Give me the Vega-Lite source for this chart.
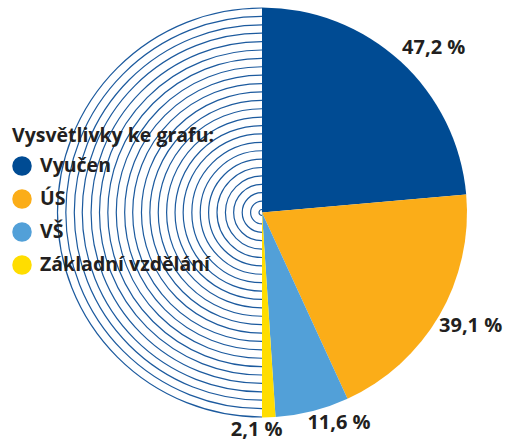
{
  "$schema": "https://vega.github.io/schema/vega-lite/v6.json",
  "autosize": "none",
  "width": 410,
  "height": 410,
  "padding": {"left": 57, "top": 7.5, "right": 39, "bottom": 23.5},
  "background": "white",
  "config": {
    "view": {"stroke": null},
    "font": "Open Sans",
    "legend": {
      "orient": "none",
      "legendX": -45,
      "legendY": 119,
      "titleFont": "Open Sans",
      "titleFontSize": 19.5,
      "titleFontWeight": "bold",
      "titleColor": "#231f20",
      "titleLimit": 400,
      "titlePadding": 10,
      "labelFont": "Open Sans",
      "labelFontSize": 19.5,
      "labelFontWeight": "bold",
      "labelColor": "#231f20",
      "labelLimit": 400,
      "labelOffset": 8,
      "symbolType": "circle",
      "symbolSize": 380,
      "symbolStrokeWidth": 0,
      "symbolOpacity": 1,
      "rowPadding": 13
    }
  },
  "datasets": {
    "podil": [
      {"kategorie": "Vyučen", "hodnota": 47.2, "popisek": "47,2 %"},
      {"kategorie": "ÚS", "hodnota": 39.1, "popisek": "39,1 %"},
      {"kategorie": "VŠ", "hodnota": 11.6, "popisek": "11,6 %"},
      {"kategorie": "Základní vzdělání", "hodnota": 2.1, "popisek": "2,1 %"}
    ],
    "kruhy": [
      {"kruh": 0}, {"kruh": 1}, {"kruh": 2}, {"kruh": 3}, {"kruh": 4},
      {"kruh": 5}, {"kruh": 6}, {"kruh": 7}, {"kruh": 8}, {"kruh": 9},
      {"kruh": 10}, {"kruh": 11}, {"kruh": 12}, {"kruh": 13}, {"kruh": 14},
      {"kruh": 15}, {"kruh": 16}, {"kruh": 17}, {"kruh": 18}, {"kruh": 19},
      {"kruh": 20}, {"kruh": 21}, {"kruh": 22}, {"kruh": 23}, {"kruh": 24}
    ]
  },
  "layer": [
    {
      "data": {"name": "kruhy"},
      "mark": {"type": "arc", "theta": 3.14159265, "theta2": 6.28318531, "filled": false, "stroke": "#1c5a9e", "strokeWidth": 1.2},
      "encoding": {
        "radius": {"field": "kruh", "type": "quantitative", "scale": {"domain": [0, 24], "range": [3, 204.5], "zero": false}, "legend": null},
        "radius2": {"field": "kruh"}
      }
    },
    {
      "data": {"name": "podil"},
      "mark": {"type": "arc", "outerRadius": 205},
      "encoding": {
        "theta": {"field": "hodnota", "type": "quantitative", "stack": true, "scale": {"range": [0, 3.14159265]}},
        "order": {"field": "hodnota", "sort": "descending"},
        "color": {
          "field": "kategorie",
          "type": "nominal",
          "title": "Vysvětlivky ke grafu:",
          "scale": {
            "domain": ["Vyučen", "ÚS", "VŠ", "Základní vzdělání"],
            "range": ["#004b93", "#fbad18", "#52a0d8", "#ffdd00"]
          }
        }
      }
    },
    {
      "data": {"name": "podil"},
      "mark": {"type": "text", "radius": 232, "font": "Open Sans", "fontSize": 20, "fontWeight": "bold", "fill": "#231f20", "align": "center", "baseline": "middle", "dx": 15, "dy": 7},
      "encoding": {
        "theta": {"field": "hodnota", "type": "quantitative", "stack": true},
        "order": {"field": "hodnota", "sort": "descending"},
        "text": {"condition": {"test": "datum.kategorie === 'Vyučen'", "field": "popisek"}, "value": ""}
      }
    },
    {
      "data": {"name": "podil"},
      "mark": {"type": "text", "radius": 232, "font": "Open Sans", "fontSize": 20, "fontWeight": "bold", "fill": "#231f20", "align": "center", "baseline": "middle", "dx": 8, "dy": -3},
      "encoding": {
        "theta": {"field": "hodnota", "type": "quantitative", "stack": true},
        "order": {"field": "hodnota", "sort": "descending"},
        "text": {"condition": {"test": "datum.kategorie === 'ÚS'", "field": "popisek"}, "value": ""}
      }
    },
    {
      "data": {"name": "podil"},
      "mark": {"type": "text", "radius": 232, "font": "Open Sans", "fontSize": 20, "fontWeight": "bold", "fill": "#231f20", "align": "center", "baseline": "middle", "dx": 20, "dy": -14},
      "encoding": {
        "theta": {"field": "hodnota", "type": "quantitative", "stack": true},
        "order": {"field": "hodnota", "sort": "descending"},
        "text": {"condition": {"test": "datum.kategorie === 'VŠ'", "field": "popisek"}, "value": ""}
      }
    },
    {
      "data": {"name": "podil"},
      "mark": {"type": "text", "radius": 232, "font": "Open Sans", "fontSize": 20, "fontWeight": "bold", "fill": "#231f20", "align": "center", "baseline": "middle", "dx": -13, "dy": -14},
      "encoding": {
        "theta": {"field": "hodnota", "type": "quantitative", "stack": true},
        "order": {"field": "hodnota", "sort": "descending"},
        "text": {"condition": {"test": "datum.kategorie === 'Základní vzdělání'", "field": "popisek"}, "value": ""}
      }
    }
  ]
}
